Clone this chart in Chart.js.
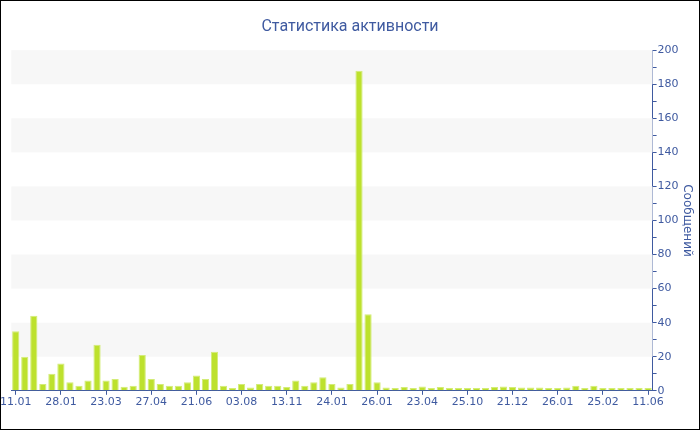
<!DOCTYPE html>
<html>
<head>
<meta charset="utf-8">
<script src="https://cdn.jsdelivr.net/npm/chart.js@4.4.1/dist/chart.umd.min.js"></script>
<style>
    html, body { margin: 0; padding: 0; background: #fff; }
    #wrap { width: 700px; height: 430px; box-sizing: border-box; border: 1px solid #000; overflow: hidden; }
    #wrap canvas { display: block; position: relative; left: -2px; }
</style>
</head>
<body>
<div id="wrap"><canvas id="activityChart" width="702" height="428"></canvas></div>
<script>
// Chart data
const tickLabels = ['11.01', '28.01', '23.03', '27.04', '21.06', '03.08', '13.11', '24.01',
    '26.01', '23.04', '25.10', '21.12', '26.01', '25.02', '11.06'];
const labelEvery = 5;
const messages = [
    35, 20, 44, 4, 10, 16, 5, 3, 6, 27,
    6, 7, 2.4, 3, 21, 7, 4, 3, 3, 5,
    9, 7, 23, 3, 1.6, 4, 2, 4, 3, 3,
    2.3, 6, 3, 5, 8, 4, 2, 4, 188, 45,
    5, 2, 1.6, 2.2, 1.6, 2.5, 1.6, 2.2, 1.6, 1.6,
    1.6, 1.6, 1.6, 2.2, 2.5, 2.3, 2, 2, 2, 1.6,
    1.6, 2, 2.9, 1.6, 2.9, 1.6, 1.6, 1.6, 1.6, 1.6,
    1.6
];
const yMax = 200;

(function() {
    'use strict';

    const blue = '#3f5aa0';
    const categories = messages.map((v, i) => i % labelEvery === 0 ? tickLabels[i / labelEvery] : '');

    // light stripes every other 20 units
    const bandsPlugin = {
        id: 'bands',
        beforeDatasetsDraw(chart) {
            const { ctx, chartArea, scales } = chart;
            ctx.save();
            ctx.fillStyle = '#f7f7f7';
            for (let v = 20; v < yMax; v += 40) {
                const top = scales.y.getPixelForValue(v + 20);
                const bottom = scales.y.getPixelForValue(v);
                ctx.fillRect(chartArea.left, top, chartArea.right - chartArea.left, bottom - top);
            }
            ctx.restore();
        }
    };

    const ctx = document.getElementById('activityChart').getContext('2d');
    new Chart(ctx, {
        type: 'bar',
        data: {
            labels: categories,
            datasets: [{
                label: 'Сообщений',
                data: messages,
                backgroundColor: '#bde12d',
                borderColor: '#d3ec78',
                borderWidth: 1,
                categoryPercentage: 1,
                barPercentage: 0.8
            }]
        },
        options: {
            responsive: false,
            animation: false,
            layout: { padding: { left: 0, right: 0, top: 0, bottom: 19 } },
            scales: {
                x: {
                    offset: true,
                    grid: {
                        offset: false,
                        drawOnChartArea: false,
                        tickLength: 4,
                        tickColor: (c) => categories[c.index] ? blue : 'rgba(0,0,0,0)'
                    },
                    border: { color: blue, width: 1 },
                    ticks: {
                        autoSkip: false,
                        maxRotation: 0,
                        padding: 1,
                        color: blue,
                        font: { family: 'DejaVu Sans', size: 11 }
                    }
                },
                y: {
                    position: 'right',
                    min: 0,
                    max: yMax,
                    grid: {
                        drawOnChartArea: false,
                        tickLength: 4,
                        tickColor: blue
                    },
                    border: { color: blue, width: 1 },
                    ticks: {
                        stepSize: 10,
                        padding: 1,
                        color: blue,
                        font: { family: 'DejaVu Sans', size: 11 },
                        callback: (value) => value % 20 === 0 ? value : ''
                    },
                    title: {
                        display: true,
                        text: 'Сообщений',
                        color: blue,
                        font: { family: 'DejaVu Sans', size: 12 },
                        padding: { top: 7, bottom: 0 }
                    }
                }
            },
            plugins: {
                legend: { display: false },
                tooltip: { enabled: false },
                title: {
                    display: true,
                    text: 'Статистика активности',
                    color: blue,
                    font: { family: 'Roboto', size: 16, weight: 'normal' },
                    padding: { top: 16, bottom: 14 }
                }
            }
        },
        plugins: [bandsPlugin]
    });
})();
</script>
</body>
</html>
